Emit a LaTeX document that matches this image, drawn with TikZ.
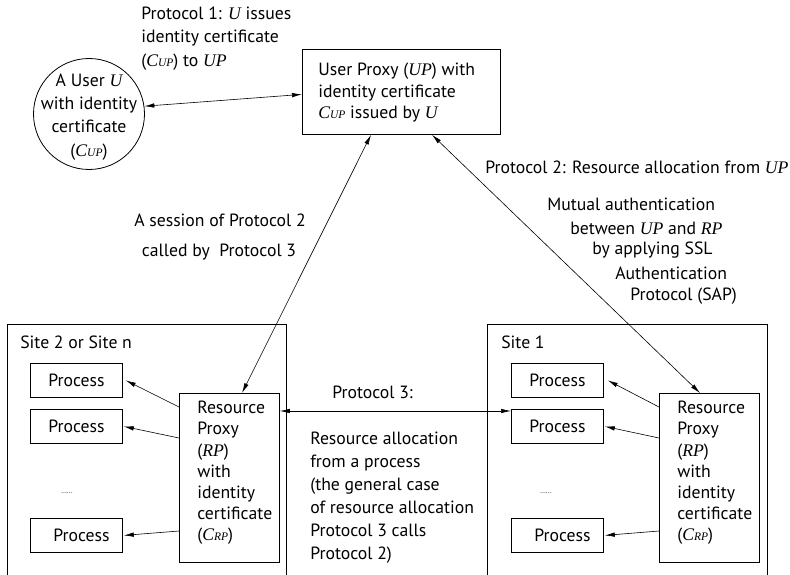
\documentclass[tikz,border=0pt]{standalone}
\usepackage{fontspec}
\setmainfont{PT Sans}
\newfontfamily\serfam{Liberation Serif}
\usetikzlibrary{arrows.meta}
\newcommand\mv[1]{{\serfam\itshape #1}}
\newcommand\cUP{{\serfam\itshape C{\fontsize{11.5}{11.5}\selectfont UP}}}
\newcommand\cRP{{\serfam\itshape C{\fontsize{11.5}{11.5}\selectfont RP}}}
\begin{document}
\begin{tikzpicture}[x=1pt,y=-1pt,
  font=\fontsize{17.7}{22}\selectfont,
  >={Latex[length=10pt,width=4.5pt]},
  line width=0.6pt,
  box/.style={draw, line width=0.8pt, inner sep=0},
  procbox/.style={box, minimum width=92pt, minimum height=34pt, anchor=north west},
  rpbox/.style={box, minimum width=100pt, minimum height=169pt, anchor=north west},
  sitebox/.style={box, minimum width=279pt, minimum height=300pt, anchor=north west},
  lbl/.style={inner sep=0, anchor=west, align=left},
  ctr/.style={inner sep=0},
  dots/.style={inner sep=0, font=\fontsize{7}{7}\selectfont}]
\useasboundingbox (0,0) rectangle (790,575);

% sites
\node[sitebox] (site2) at (7,324) {};
\node[sitebox, minimum width=280pt] (site1) at (487,324) {};
\node[lbl] (s2lbl) at (20,342) {Site 2 or Site n};
\node[lbl] (s1lbl) at (501,342) {Site 1};

% user and user proxy
\node[draw, circle, line width=0.8pt, minimum size=111pt, inner sep=0] (user) at (89,114) {};
\node[ctr, align=center, font=\fontsize{17.7}{23.2}\selectfont] (usertext) at (89,117) {A User \mv{U}\\with identity\\certificate\\(\cUP)};
\node[box, anchor=north west, minimum width=198pt, minimum height=85pt] (up) at (302,49) {};
\node[lbl, font=\fontsize{17.7}{21.5}\selectfont] (uptext) at (318,93) {User Proxy (\mv{UP}) with\\identity certificate\\\cUP{} issued by\ \mv{U}};

% processes
\node[procbox] (pL1) at (30,363) {Process};
\node[procbox] (pL2) at (30,409) {Process};
\node[procbox] (pL3) at (30,518) {\hspace*{10pt}Process};
\node[procbox] (pR1) at (511,363) {Process};
\node[procbox] (pR2) at (511,409) {Process};
\node[procbox] (pR3) at (511,518) {\hspace*{10pt}Process};
\node[dots] (dotsL) at (67,493) {......};
\node[dots] (dotsR) at (546,493) {......};

% resource proxies
\node[rpbox] (rpL) at (179,393) {};
\node[rpbox] (rpR) at (659,393) {};
\node[lbl, font=\fontsize{17.7}{21.2}\selectfont] (rpLtext) at (197,473) {Resource\\Proxy\\(\mv{RP})\\with\\identity\\certificate\\(\cRP)};
\node[lbl, font=\fontsize{17.7}{21.2}\selectfont] (rpRtext) at (677,473) {Resource\\Proxy\\(\mv{RP})\\with\\identity\\certificate\\(\cRP)};

% labels
\node[lbl, font=\fontsize{17.7}{23.5}\selectfont] (p1) at (141,38.5) {Protocol 1: \mv{U} issues\\identity certificate\\(\cUP) to \mv{UP}};
\node[ctr] (sess1) at (220,220) {A session of Protocol 2};
\node[ctr] (sess2) at (219,252) {called by\ \ Protocol 3};
\node[lbl] (p2) at (485,167) {Protocol 2: Resource allocation from \mv{UP}};
\node[lbl] (m1) at (547,204) {Mutual authentication};
\node[lbl] (m2) at (570,228) {between \mv{UP} and \mv{RP}};
\node[lbl] (m3) at (592,250) {by applying SSL};
\node[lbl] (m4) at (615,273) {Authentication};
\node[lbl] (m5) at (630,296) {Protocol (SAP)};
\node[lbl] (p3) at (332,392) {Protocol 3:};
\node[lbl, font=\fontsize{17.7}{23}\selectfont] (ra) at (310,497.5) {Resource allocation\\from a process\\(the general case\\of resource allocation\\Protocol 3 calls\\Protocol 2)};

% connectors
\draw[<->] (user.8) -- ([yshift=-2.5pt]up.west);
\draw[<->] ([xshift=69pt]up.south west) -- ([xshift=63pt]rpL.north west);
\draw[<->] ([xshift=130pt]up.south west) -- ([xshift=41pt]rpR.north west);
\draw[<->] ([yshift=-18pt]rpL.north east) -- ([yshift=-2pt]pR2.north west);
\draw[->] ([yshift=-14pt]rpL.north west) -- ([xshift=3pt]pL1.east);
\draw[->] ([yshift=-45pt]rpL.north west) -- ([xshift=1pt]pL2.east);
\draw[->] ([yshift=-138pt]rpL.north west) -- ([xshift=1pt]pL3.east);
\draw[->] ([yshift=-14pt]rpR.north west) -- ([xshift=4pt]pR1.east);
\draw[->] ([yshift=-45pt]rpR.north west) -- ([xshift=1pt]pR2.east);
\draw[->] ([yshift=-138pt]rpR.north west) -- ([xshift=1pt]pR3.east);
\end{tikzpicture}
\end{document}
